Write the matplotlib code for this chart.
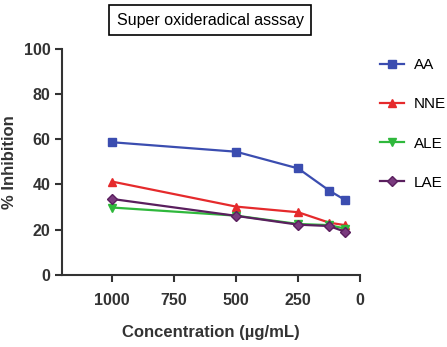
import matplotlib.pyplot as plt

plt.rcParams["font.family"] = ["Liberation Sans", "DejaVu Sans"]

conc = [1000, 500, 250, 125, 62.5]
aa = [58.7, 54.5, 47.1, 37.3, 33.2]
aa_err = [0, 0, 0, 1.6, 0]
nne = [41.3, 30.2, 27.7, 23.1, 22.0]
ale = [29.8, 26.2, 22.5, 22.0, 20.5]
lae = [33.6, 26.1, 22.2, 21.6, 19.1]

xticks = [1000, 750, 500, 250, 0]
yticks = [0, 20, 40, 60, 80, 100]

fig = plt.figure(figsize=(4.47, 3.47), dpi=100)
ax = fig.add_axes([0.139, 0.208, 0.667, 0.651])

h_aa = ax.errorbar(conc, aa, yerr=aa_err, color="#3b4db0", marker="s", ms=6,
                   lw=1.6, capsize=0, label="AA")
h_nne, = ax.plot(conc, nne, color="#e52a2c", marker="^", ms=6, lw=1.6,
                 label="NNE")
h_ale, = ax.plot(conc, ale, color="#2fb83c", marker="v", ms=6, lw=1.6,
                 label="ALE")
h_lae, = ax.plot(conc, lae, color="#5a1f5e", marker="D", ms=5.5, lw=1.6,
                 markerfacecolor="#7a3a7e", label="LAE")

ax.set_xlim(1200, 0)
ax.set_ylim(0, 100)
ax.set_xticks(xticks)
ax.set_yticks(yticks)
for lbl in ax.get_xticklabels() + ax.get_yticklabels():
    lbl.set_fontweight("bold")
    lbl.set_fontsize(11.5)
ax.spines[["top", "right"]].set_visible(False)
for s in ["left", "bottom"]:
    ax.spines[s].set_linewidth(1.5)
    ax.spines[s].set_color("#333333")
ax.tick_params(width=1.5, length=5, color="#333333", labelcolor="#333333")
ax.tick_params(axis="x", pad=8)

ax.set_xlabel("Concentration (µg/mL)", fontweight="bold", fontsize=12,
              color="#333333", labelpad=12)
ax.set_ylabel("% Inhibition", fontweight="bold", fontsize=12,
              color="#333333", labelpad=5)

fig.text(0.47, 0.942, "Super oxideradical asssay", ha="center", va="center",
         fontsize=11.5,
         bbox=dict(boxstyle="square,pad=0.45", fc="white", ec="black", lw=1.2))

# line-only handle for AA so the legend shows no error bar
ax.legend([h_aa[0], h_nne, h_ale, h_lae], ["AA", "NNE", "ALE", "LAE"],
          loc="upper left", bbox_to_anchor=(1.02, 1.02), frameon=False,
          fontsize=11, handlelength=1.6, labelspacing=1.65,
          handletextpad=0.6)

fig.savefig("out.png", dpi=100)
